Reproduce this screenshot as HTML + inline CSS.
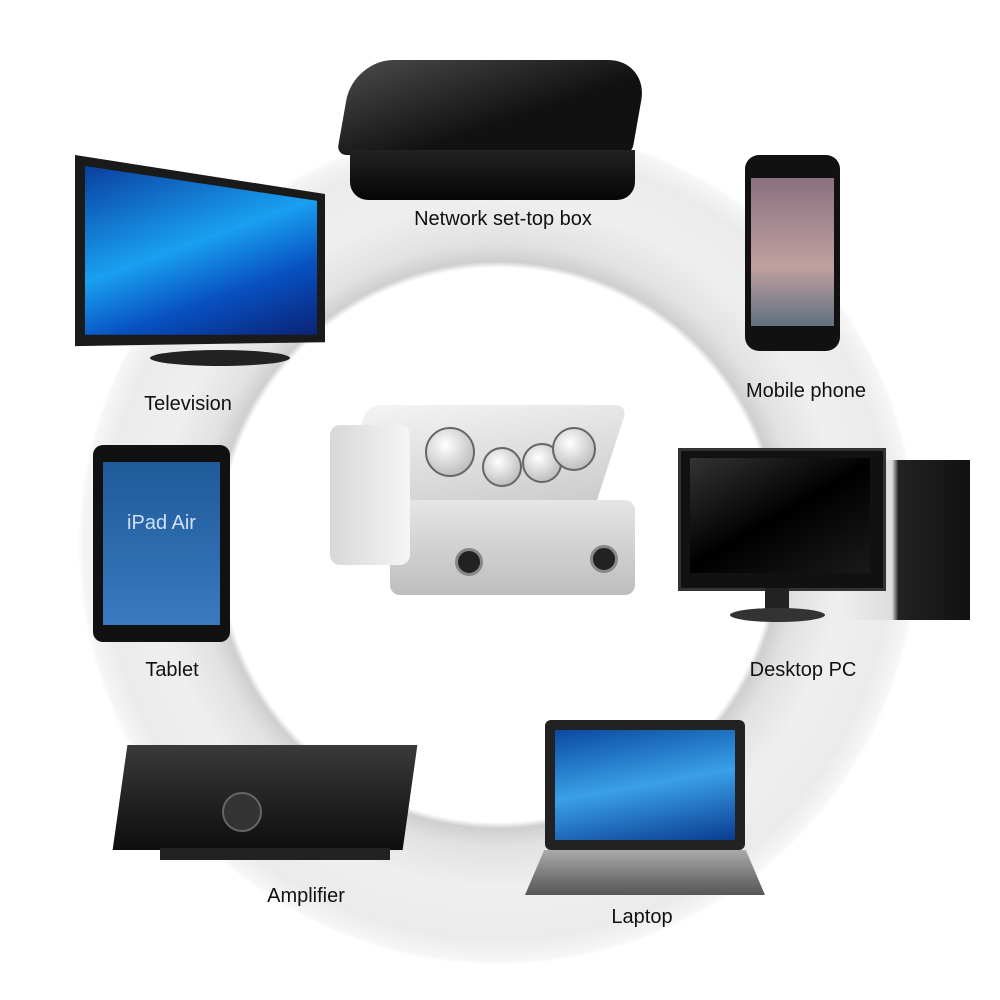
<!DOCTYPE html>
<html><head><meta charset="utf-8"><style>
html,body{margin:0;padding:0;background:#fff;}
#c{position:relative;width:1000px;height:1000px;overflow:hidden;background:#fff;font-family:"Liberation Sans",Arial,sans-serif;}
.a{position:absolute;}
.lbl{position:absolute;font-size:20px;color:#111;white-space:nowrap;transform:translateX(-50%);}
</style></head><body><div id="c">
<!-- ring -->
<div class="a" style="left:78px;top:125px;width:840px;height:840px;border-radius:50%;background:radial-gradient(circle closest-side,#fff 0%,#fff 66%,#cfcfcf 67.5%,#e2e2e2 72%,#efefef 82%,#ebebeb 94%,#f6f6f6 99%,#fff 100%);"></div>

<!-- set-top box -->
<div class="a" style="left:345px;top:60px;width:295px;height:140px;">
 <div class="a" style="left:0;top:0;width:295px;height:95px;background:linear-gradient(160deg,#4a4a4a,#111 60%);border-radius:40px 40px 10px 10px;transform:skewX(-10deg);"></div>
 <div class="a" style="left:5px;top:90px;width:285px;height:50px;background:linear-gradient(#222,#050505);border-radius:0 0 18px 18px;"></div>
</div>
<div class="lbl" style="left:503px;top:208px;">Network set-top box</div>

<!-- phone -->
<div class="a" style="left:745px;top:155px;width:95px;height:196px;background:#111;border-radius:14px;"></div>
<div class="a" style="left:751px;top:178px;width:83px;height:148px;background:linear-gradient(#8a7080,#c0a0a0 60%,#607080);"></div>
<div class="lbl" style="left:806px;top:380px;">Mobile phone</div>

<!-- TV -->
<div class="a" style="left:75px;top:155px;width:250px;height:195px;background:#1a1a1a;clip-path:polygon(0 0,100% 20%,100% 96%,0 98%);"></div>
<div class="a" style="left:85px;top:166px;width:232px;height:174px;background:linear-gradient(160deg,#0a3fa0,#19a0f0 45%,#0850c0 70%,#0a2070);clip-path:polygon(0 0,100% 20%,100% 97%,0 97%);"></div>
<div class="a" style="left:150px;top:350px;width:140px;height:16px;background:#222;border-radius:50%;"></div>
<div class="lbl" style="left:188px;top:393px;">Television</div>

<!-- tablet -->
<div class="a" style="left:93px;top:445px;width:137px;height:197px;background:#111;border-radius:10px;"></div>
<div class="a" style="left:103px;top:462px;width:117px;height:163px;background:linear-gradient(#1f5a9a,#3a7ac0);color:#cfe0f5;font-size:20px;text-align:center;padding-top:50px;box-sizing:border-box;">iPad Air</div>
<div class="lbl" style="left:172px;top:659px;">Tablet</div>

<!-- mixer -->
<div class="a" style="left:330px;top:405px;width:305px;height:190px;">
 <div class="a" style="left:20px;top:0;width:260px;height:110px;background:linear-gradient(170deg,#f4f4f4,#c8c8c8);transform:skewX(-18deg);border-radius:12px;"></div>
 <div class="a" style="left:60px;top:95px;width:245px;height:95px;background:linear-gradient(#e6e6e6,#bdbdbd);border-radius:10px;"></div>
 <div class="a" style="left:0;top:20px;width:80px;height:140px;background:linear-gradient(90deg,#d8d8d8,#f5f5f5);border-radius:10px;"></div>
 <div class="a" style="left:95px;top:22px;width:46px;height:46px;border-radius:50%;background:radial-gradient(circle at 40% 35%,#fff,#aaa);border:2px solid #666;"></div>
 <div class="a" style="left:152px;top:42px;width:36px;height:36px;border-radius:50%;background:radial-gradient(circle at 40% 35%,#fff,#aaa);border:2px solid #666;"></div>
 <div class="a" style="left:192px;top:38px;width:36px;height:36px;border-radius:50%;background:radial-gradient(circle at 40% 35%,#fff,#aaa);border:2px solid #666;"></div>
 <div class="a" style="left:222px;top:22px;width:40px;height:40px;border-radius:50%;background:radial-gradient(circle at 40% 35%,#fff,#aaa);border:2px solid #666;"></div>
 <div class="a" style="left:125px;top:143px;width:22px;height:22px;border-radius:50%;background:#222;border:3px solid #888;"></div>
 <div class="a" style="left:260px;top:140px;width:22px;height:22px;border-radius:50%;background:#222;border:3px solid #888;"></div>
</div>

<!-- desktop -->
<div class="a" style="left:840px;top:460px;width:130px;height:160px;background:linear-gradient(90deg,#eee 0%,#ddd 40%,#222 45%,#111);"></div>
<div class="a" style="left:678px;top:448px;width:202px;height:137px;background:#111;border:3px solid #333;"></div>
<div class="a" style="left:690px;top:458px;width:180px;height:115px;background:linear-gradient(150deg,#333,#000 50%,#1a1a1a);"></div>
<div class="a" style="left:765px;top:588px;width:24px;height:22px;background:#222;"></div>
<div class="a" style="left:730px;top:608px;width:95px;height:14px;background:#333;border-radius:50%;"></div>
<div class="lbl" style="left:803px;top:659px;">Desktop PC</div>

<!-- amplifier -->
<div class="a" style="left:120px;top:745px;width:290px;height:105px;background:linear-gradient(#3a3a3a,#0d0d0d);transform:skewX(-8deg);"></div>
<div class="a" style="left:222px;top:792px;width:36px;height:36px;border-radius:50%;background:#333;border:2px solid #666;"></div>
<div class="a" style="left:160px;top:848px;width:230px;height:12px;background:#222;"></div>
<div class="lbl" style="left:306px;top:885px;">Amplifier</div>

<!-- laptop -->
<div class="a" style="left:545px;top:720px;width:200px;height:130px;background:#222;border-radius:6px;"></div>
<div class="a" style="left:555px;top:730px;width:180px;height:110px;background:linear-gradient(170deg,#0a4aa0,#3aa0e8 50%,#0a3c90);"></div>
<div class="a" style="left:525px;top:850px;width:240px;height:45px;background:linear-gradient(#aaa,#555);clip-path:polygon(8% 0,92% 0,100% 100%,0 100%);"></div>
<div class="lbl" style="left:642px;top:906px;">Laptop</div>
</div></body></html>
